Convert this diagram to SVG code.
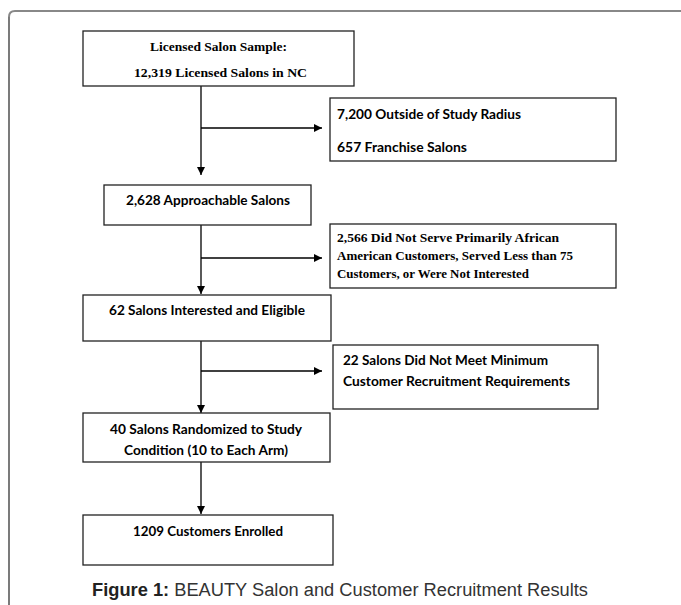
<svg xmlns="http://www.w3.org/2000/svg" width="681" height="605" viewBox="0 0 681 605">
<style>
.box{fill:#fff;stroke:#222;stroke-width:1.3}
.ser{font-family:"Liberation Serif","Times New Roman",serif;font-weight:bold;font-size:13.5px;fill:#000}
.sans{font-family:Lato,"Open Sans","Liberation Sans",sans-serif;font-weight:bold;font-size:13.5px;fill:#000}
.c{text-anchor:middle}
.conn{fill:none;stroke:#000;stroke-width:1.3}
.cap{font-family:"Liberation Sans",Arial,sans-serif;font-size:18px;fill:#333}
</style>
<defs>
<marker id="ah" markerUnits="userSpaceOnUse" markerWidth="8" markerHeight="8" refX="8" refY="4" orient="auto">
<path d="M0,0 L8,4 L0,8 z" fill="#000"/>
</marker>
</defs>
<rect width="681" height="605" fill="#fff"/>
<path d="M681,11 H15 Q9,11 9,17" fill="none" stroke="#888" stroke-width="2"/>
<path d="M9,17 V605" fill="none" stroke="#333" stroke-width="1.3"/>

<g id="connectors">
<path class="conn" d="M201,86 V175" marker-end="url(#ah)"/>
<path class="conn" d="M201,128 H322" marker-end="url(#ah)"/>
<path class="conn" d="M201,225 V294" marker-end="url(#ah)"/>
<path class="conn" d="M201,258 H322" marker-end="url(#ah)"/>
<path class="conn" d="M201,341 V413" marker-end="url(#ah)"/>
<path class="conn" d="M201,371 H322" marker-end="url(#ah)"/>
<path class="conn" d="M201,462 V514" marker-end="url(#ah)"/>
</g>

<g id="n1">
<rect class="box" x="83" y="31" width="271" height="55"/>
<text class="ser c" x="218.5" y="50.5" textLength="137" lengthAdjust="spacingAndGlyphs">Licensed Salon Sample:</text>
<text class="ser c" x="220.5" y="77" textLength="173" lengthAdjust="spacingAndGlyphs">12,319 Licensed Salons in NC</text>
</g>

<g id="n2">
<rect class="box" x="330" y="98" width="286" height="63"/>
<text class="sans" x="337" y="118.5" textLength="184" lengthAdjust="spacingAndGlyphs">7,200 Outside of Study Radius</text>
<text class="sans" x="337" y="151.5" textLength="130" lengthAdjust="spacingAndGlyphs">657 Franchise Salons</text>
</g>

<g id="n3">
<rect class="box" x="104" y="185" width="207" height="40"/>
<text class="sans" x="126" y="204.5" textLength="164" lengthAdjust="spacingAndGlyphs">2,628 Approachable Salons</text>
</g>

<g id="n4">
<rect class="box" x="330" y="224" width="286" height="64"/>
<text class="ser" x="337" y="242" textLength="222" lengthAdjust="spacingAndGlyphs">2,566 Did Not Serve Primarily African</text>
<text class="ser" x="337" y="260" textLength="236" lengthAdjust="spacingAndGlyphs">American Customers, Served Less than 75</text>
<text class="ser" x="337" y="277.5" textLength="192" lengthAdjust="spacingAndGlyphs">Customers, or Were Not Interested</text>
</g>

<g id="n5">
<rect class="box" x="83" y="295" width="248" height="46"/>
<text class="sans" x="109" y="314.5" textLength="196" lengthAdjust="spacingAndGlyphs">62 Salons Interested and Eligible</text>
</g>

<g id="n6">
<rect class="box" x="333" y="345" width="265" height="64"/>
<text class="sans" x="343" y="364.5" textLength="205" lengthAdjust="spacingAndGlyphs">22 Salons Did Not Meet Minimum</text>
<text class="sans" x="343" y="385.5" textLength="227" lengthAdjust="spacingAndGlyphs">Customer Recruitment Requirements</text>
</g>

<g id="n7">
<rect class="box" x="83" y="413" width="247" height="49"/>
<text class="sans" x="110" y="433.5" textLength="192" lengthAdjust="spacingAndGlyphs">40 Salons Randomized to Study</text>
<text class="sans" x="124" y="454.5" textLength="164" lengthAdjust="spacingAndGlyphs">Condition (10 to Each Arm)</text>
</g>

<g id="n8">
<rect class="box" x="83" y="515" width="250" height="50"/>
<text class="sans" x="133" y="535.5" textLength="150" lengthAdjust="spacingAndGlyphs">1209 Customers Enrolled</text>
</g>

<text class="cap" x="92" y="596" textLength="496" lengthAdjust="spacingAndGlyphs"><tspan font-weight="bold" fill="#222">Figure 1:</tspan> BEAUTY Salon and Customer Recruitment Results</text>
</svg>
